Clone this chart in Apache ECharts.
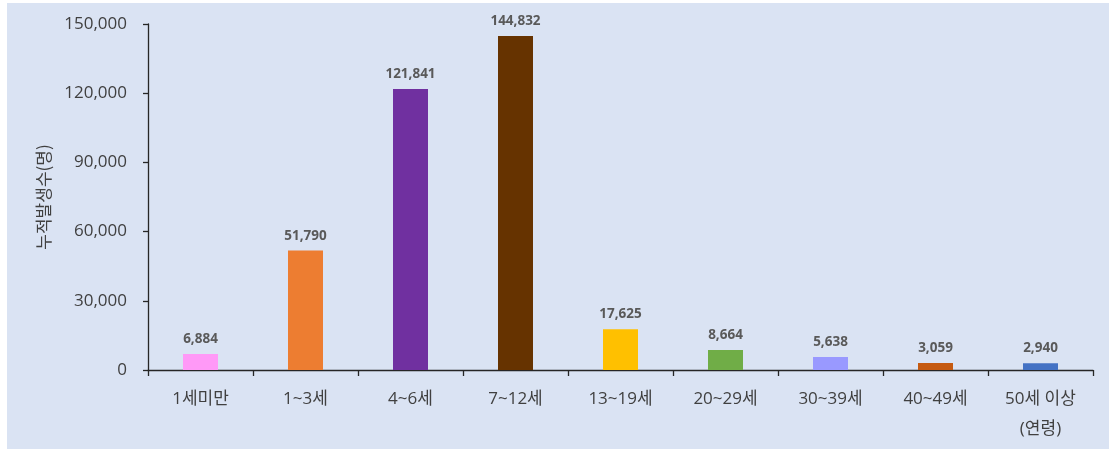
<!DOCTYPE html>
<html>
<head>
<meta charset="utf-8">
<script src="https://cdn.jsdelivr.net/npm/echarts@6/dist/echarts.min.js"></script>
<style>
  html, body { margin: 0; padding: 0; background: #ffffff; }
  #chart { position: absolute; left: 7px; top: 3px; width: 1102px; height: 446px; }
</style>
</head>
<body>
<div id="chart"></div>
<script>
// 연령대별 누적 발생 수
const categories = ['1세미만', '1~3세', '4~6세', '7~12세', '13~19세', '20~29세', '30~39세', '40~49세', '50세 이상\n(연령)'];
const counts = [6884, 51790, 121841, 144832, 17625, 8664, 5638, 3059, 2940];
const barColors = ['#FF99F7', '#ED7D31', '#7030A0', '#663300', '#FFC000', '#70AD47', '#9999FF', '#C55A11', '#4472C4'];
const yTicks = [0, 30000, 60000, 90000, 120000, 150000];

const font = '"Open Sans", "Noto Sans CJK KR", sans-serif';
const cjkFont = '"Noto Sans CJK KR", sans-serif';
const chart = echarts.init(document.getElementById('chart'));

chart.setOption({
  backgroundColor: '#DAE3F3',
  animation: false,
  grid: { left: 141, right: 16, top: 21, bottom: 79 },
  xAxis: {
    type: 'category',
    data: categories,
    axisLine: { lineStyle: { color: '#262626', width: 1.3 } },
    axisTick: { show: true, length: 6, alignWithLabel: false, lineStyle: { color: '#262626', width: 1.3 } },
    axisLabel: { color: '#404040', fontSize: 17, fontFamily: font, margin: 14, lineHeight: 30 }
  },
  yAxis: {
    type: 'value',
    min: yTicks[0],
    max: yTicks[yTicks.length - 1],
    interval: yTicks[1] - yTicks[0],
    name: '누적발생수(명)',
    nameLocation: 'middle',
    nameGap: 96,
    nameRotate: 90,
    nameTextStyle: { color: '#404040', fontSize: 17, fontFamily: cjkFont },
    splitLine: { show: false },
    axisLine: { show: true, lineStyle: { color: '#262626', width: 1.3 } },
    axisTick: { show: true, length: 5, lineStyle: { color: '#262626', width: 1.3 } },
    axisLabel: {
      color: '#404040', fontSize: 17, fontFamily: font, margin: 21,
      formatter: v => v.toLocaleString('en-US')
    }
  },
  series: [{
    type: 'bar',
    data: counts.map((v, i) => ({ value: v, itemStyle: { color: barColors[i] } })),
    barWidth: 35,
    label: {
      show: true,
      position: 'top',
      distance: 8,
      color: '#595959',
      fontSize: 13.5,
      fontWeight: 'bold',
      fontFamily: font,
      formatter: p => p.value.toLocaleString('en-US')
    }
  }]
});
</script>
</body>
</html>
